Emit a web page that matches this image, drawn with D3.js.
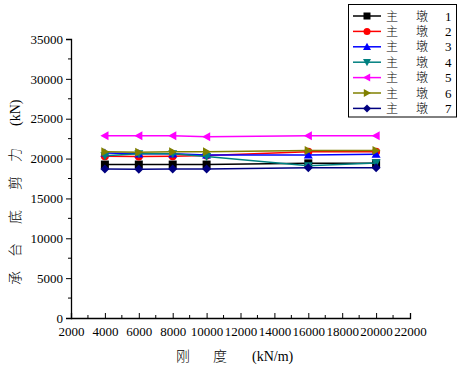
<!DOCTYPE html>
<html><head><meta charset="utf-8">
<script src="https://d3js.org/d3.v7.min.js"></script>
<style>body{margin:0;background:#fff}</style>
</head><body>
<svg id="c" width="461" height="367"></svg>
<script>
const stiffness = [4000, 6000, 8000, 10000, 16000, 20000];
const seriesNames = ["1","2","3","4","5","6","7"];
const pier1 = [19250, 19250, 19250, 19250, 19400, 19400];
const pier2 = [20300, 20250, 20300, 20400, 20850, 20850];
const pier3 = [20700, 20600, 20600, 20450, 20450, 20550];
const pier4 = [20350, 20600, 20600, 20250, 19100, 19450];
const pier5 = [22850, 22850, 22850, 22750, 22850, 22850];
const pier6 = [20850, 20800, 20850, 20850, 21000, 21000];
const pier7 = [18700, 18650, 18700, 18700, 18850, 18850];
const xTicks = [2000,4000,6000,8000,10000,12000,14000,16000,18000,20000,22000];
const yTicks = [0,5000,10000,15000,20000,25000,30000,35000];

const allSeries = [pier1,pier2,pier3,pier4,pier5,pier6,pier7];
const colors = ["#000000","#ff0000","#0000ff","#008080","#ff00ff","#808000","#000080"];
const shapes = ["square","circle","up","down","left","right","diamond"];
const SERIF = '"Liberation Serif", "Times New Roman", serif';
const CJK = '"Noto Sans CJK SC", "Noto Sans CJK JP", sans-serif';

const svg = d3.select("#c");
const x = d3.scaleLinear().domain([2000,22000]).range([71,410]);
const y = d3.scaleLinear().domain([0,35000]).range([318,39]);

// axes
const xAxis = d3.axisBottom(x).tickValues(xTicks).tickSize(-5).tickPadding(9).tickFormat(d3.format("d"));
const gx = svg.append("g").attr("transform","translate(0,318)").call(xAxis);
gx.selectAll("text").style("font-family",SERIF).style("font-size","13px").attr("fill","#000");
gx.append("g").selectAll("line").data(d3.range(3000,22000,2000)).join("line")
  .attr("x1",d=>x(d)).attr("x2",d=>x(d)).attr("y1",0).attr("y2",-3).attr("stroke","#000");
const yAxis = d3.axisLeft(y).tickValues(yTicks).tickSize(5).tickPadding(3).tickFormat(d3.format("d"));
const gy = svg.append("g").attr("transform","translate(71,0)").call(yAxis);
gy.selectAll("text").style("font-family",SERIF).style("font-size","13px").attr("fill","#000");
gy.append("g").selectAll("line").data(d3.range(2500,35000,5000)).join("line")
  .attr("y1",d=>y(d)).attr("y2",d=>y(d)).attr("x1",0).attr("x2",-3).attr("stroke","#000");
svg.selectAll(".domain").attr("stroke","#000").attr("stroke-width",1.3);
svg.selectAll(".tick line").attr("stroke","#000");

// axis titles
const xt = svg.append("text").attr("y",361).style("font-size","14px").attr("fill","#000");
xt.append("tspan").attr("x",176).style("font-family",CJK).style("font-weight","300").text("刚");
xt.append("tspan").attr("x",213).style("font-family",CJK).style("font-weight","300").text("度");
xt.append("tspan").attr("x",252).style("font-family",SERIF).text("(kN/m)");

const yt = svg.append("text").attr("transform","translate(20,0) rotate(-90)").style("font-size","14px").attr("fill","#000");
[["承",285],["台",257],["底",224],["剪",190],["力",162]].forEach(([t,p])=>{
  yt.append("tspan").attr("x",-p).attr("y",0).style("font-family",CJK).style("font-weight","300").text(t);
});
yt.append("tspan").attr("x",-126).attr("y",0).style("font-family",SERIF).text("(kN)");

function marker(g, shape, cx, cy, color, s) {
  s = s || 4.5;
  let el;
  if (shape==="square") el = g.append("rect").attr("x",cx-s+0.5).attr("y",cy-s+0.5).attr("width",2*s-1).attr("height",2*s-1);
  else if (shape==="circle") el = g.append("circle").attr("cx",cx).attr("cy",cy).attr("r",s-0.5);
  else {
    let pts;
    if (shape==="up") pts=[[cx,cy-s],[cx+s,cy+s*0.8],[cx-s,cy+s*0.8]];
    if (shape==="down") pts=[[cx,cy+s],[cx+s,cy-s*0.8],[cx-s,cy-s*0.8]];
    if (shape==="left") pts=[[cx-s,cy],[cx+s*0.8,cy-s],[cx+s*0.8,cy+s]];
    if (shape==="right") pts=[[cx+s,cy],[cx-s*0.8,cy-s],[cx-s*0.8,cy+s]];
    if (shape==="diamond") pts=[[cx,cy-s],[cx+s,cy],[cx,cy+s],[cx-s,cy]];
    el = g.append("polygon").attr("points",pts.map(p=>p.join(",")).join(" "));
  }
  el.attr("fill",color);
}

const line = d3.line().x((d,i)=>x(stiffness[i])).y(d=>y(d));
allSeries.forEach((vals,k)=>{
  const g = svg.append("g");
  g.append("path").attr("d",line(vals)).attr("fill","none").attr("stroke",colors[k]).attr("stroke-width",1.5);
  vals.forEach((v,i)=>marker(g,shapes[k],x(stiffness[i]),y(v),colors[k]));
});

// legend
const lg = svg.append("g");
lg.append("rect").attr("x",348.5).attr("y",4.5).attr("width",108).attr("height",112.5).attr("fill","#fff").attr("stroke","#000");
seriesNames.forEach((n,k)=>{
  const cy = 16 + k*15.4;
  lg.append("line").attr("x1",353).attr("x2",381).attr("y1",cy).attr("y2",cy).attr("stroke",colors[k]).attr("stroke-width",1.5);
  marker(lg,shapes[k],367,cy,colors[k],4);
  lg.append("text").attr("x",386).attr("y",cy+4.5).style("font-family",CJK).style("font-weight","300").style("font-size","12px").text("主");
  lg.append("text").attr("x",416).attr("y",cy+4.5).style("font-family",CJK).style("font-weight","300").style("font-size","12px").text("墩");
  lg.append("text").attr("x",445).attr("y",cy+4.5).style("font-family",SERIF).style("font-size","13px").text(n);
});
</script>
</body></html>
